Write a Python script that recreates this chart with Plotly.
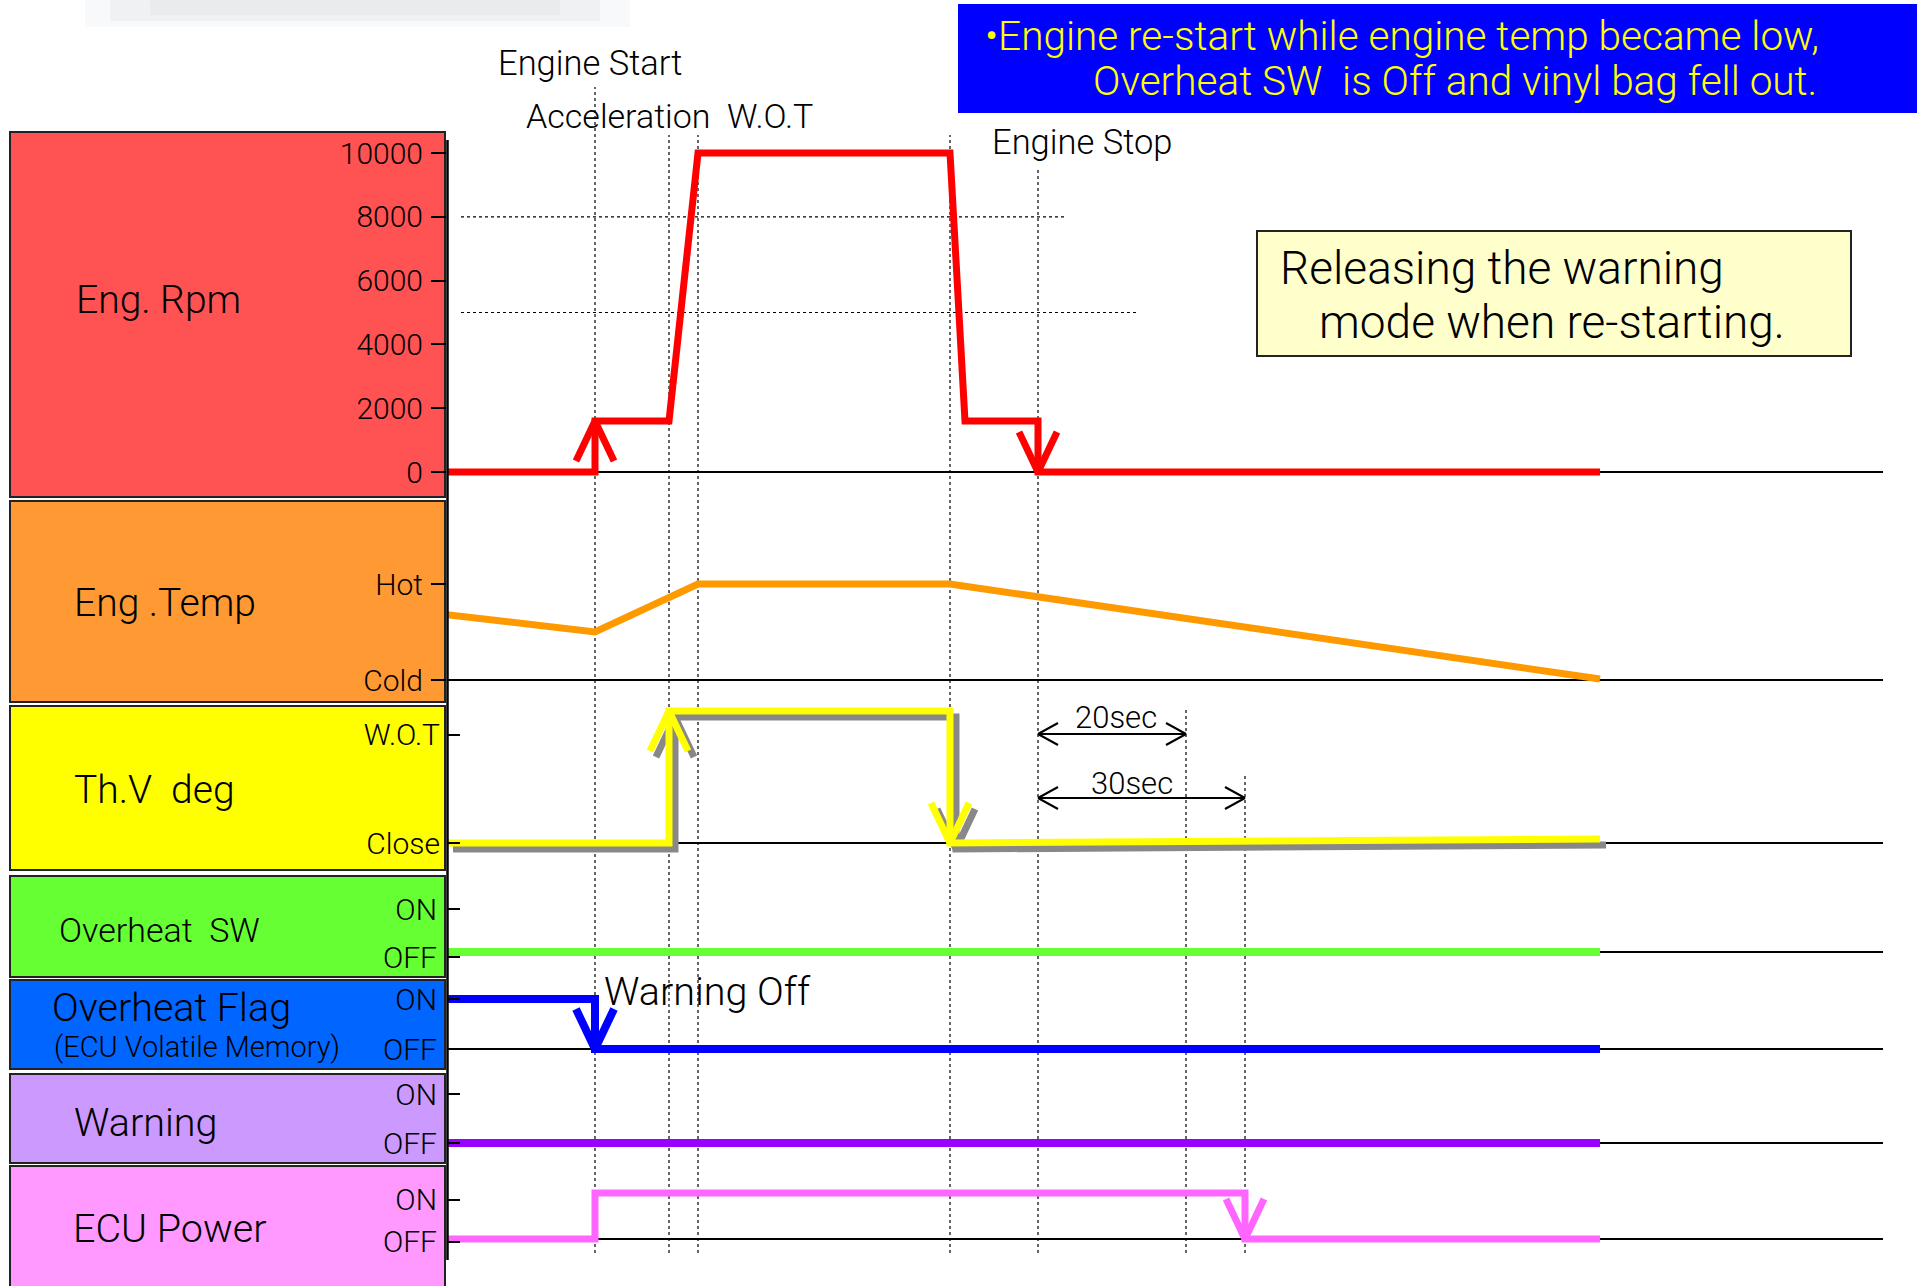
import plotly.graph_objects as go

# ---------------- data (time in arbitrary units, values per channel) ----------------
time_rpm = [0, 14.8, 14.8, 22.2, 25.1, 50.3, 51.8, 59.1, 59.1, 115.3]
rpm = [0, 0, 1600, 1600, 10000, 10000, 1600, 1600, 0, 0]

time_temp = [0, 14.8, 25.1, 50.3, 115.3]
temp = [68, 50, 100, 100, 1]          # 0 = Cold, 100 = Hot

time_thv = [0, 22.2, 22.2, 50.3, 50.3, 115.3]
thv = [0, 0, 100, 100, 0, 3]           # 0 = Close, 100 = W.O.T

time_sw = [0, 115.3]
overheat_sw = [0, 0]                   # 0 = OFF, 1 = ON

time_flag = [0, 14.8, 14.8, 115.3]
overheat_flag = [1, 1, 0, 0]

time_warn = [0, 115.3]
warning = [0, 0]

time_ecu = [0, 14.8, 14.8, 79.8, 79.8, 115.3]
ecu_power = [0, 0, 1, 1, 0, 0]

event_times = [14.8, 22.2, 25.1, 50.3, 59.1, 73.9, 79.8]   # start, accel, WOT, decel, stop, +20s, +30s
event_labels = ["Engine Start", "Acceleration  W.O.T", "Engine Stop"]

rpm_ticks = [0, 2000, 4000, 6000, 8000, 10000]
rpm_ticktext = ["0", "2000", "4000", "6000", "8000", "10000"]
rpm_guides = [8000, 5000]

panel_labels = ["Eng. Rpm", "Eng .Temp", "Th.V  deg", "Overheat  SW", "Overheat Flag", "Warning", "ECU Power"]

# ---------------- layout helpers ----------------
W, H = 1917, 1286
FONT = "Roboto"
X0, X1 = 447, 1883
T_MAX = 143.6
PXT = (X1 - X0) / T_MAX


def px(p):
    return p / W


def py(p):
    return 1 - p / H


# axis name, band (top, bottom px), (v_hi, px_hi), (v_lo, px_lo)
panels = [
    ("y", (120, 500), (10000, 153), (0, 472)),
    ("y2", (500, 702), (100, 584), (0, 680)),
    ("y3", (703, 872), (100, 711), (0, 843)),
    ("y4", (873, 977), (1, 909), (0, 952)),
    ("y5", (978, 1070), (1, 999), (0, 1049)),
    ("y6", (1071, 1165), (1, 1094), (0, 1143)),
    ("y7", (1166, 1282), (1, 1193), (0, 1239)),
]
scale = {}
layout_axes = {}
for name, (top, bot), (vh, ph), (vl, pl) in panels:
    s = (pl - ph) / (vh - vl)
    scale[name] = s
    rmax = vh + (ph - top) / s
    rmin = vl - (bot - pl) / s
    key = "yaxis" if name == "y" else "yaxis" + name[1:]
    layout_axes[key] = dict(domain=[1 - bot / H, 1 - top / H], range=[rmin, rmax],
                            anchor="x", showgrid=False, zeroline=False, showline=False,
                            tickfont=dict(family=FONT, size=30, color="black", weight=300),
                            tickcolor="black", tickwidth=2, fixedrange=True)

layout_axes["yaxis"].update(tickvals=rpm_ticks, ticktext=rpm_ticktext, ticks="outside", ticklen=15,
                            ticklabelstandoff=2, tickfont=dict(family=FONT, size=30, color="black", weight=300))
layout_axes["yaxis2"].update(tickvals=[100, 0], ticktext=["Hot", "Cold"], ticks="outside", ticklen=15,
                             ticklabelstandoff=2)
layout_axes["yaxis3"].update(tickvals=[82, 0], ticktext=["W.O.T", "Close"], ticks="inside", ticklen=13,
                             ticklabelstandoff=6)
for k in ["yaxis4", "yaxis5", "yaxis6", "yaxis7"]:
    layout_axes[k].update(tickvals=[1, 0], ticktext=["ON", "OFF"], ticks="inside", ticklen=13,
                          ticklabelstandoff=9)
layout_axes["yaxis4"].update(tickvals=[1, -0.12])
layout_axes["yaxis7"].update(tickvals=[0.85, -0.06])

WING_DX = 19 / PXT
WING_DY = 40


def with_arrows(ts, vs, tips, axis):
    xs, ys = list(ts), list(vs)
    s = scale[axis]
    for i, d in tips:
        t, v = ts[i], vs[i]
        dv = -WING_DY / s if d == "up" else WING_DY / s
        xs += [None, t - WING_DX, t, t + WING_DX]
        ys += [None, v + dv, v, v + dv]
    return xs, ys


fig = go.Figure()


def add_line(xs, ys, axis, color, width):
    fig.add_trace(go.Scatter(x=xs, y=ys, mode="lines", yaxis=axis, xaxis="x",
                             line=dict(color=color, width=width), hoverinfo="skip",
                             showlegend=False, connectgaps=False))


# temperature
add_line(time_temp, temp, "y2", "#FF9900", 7)
# throttle shadow + throttle
tx, tyv = with_arrows(time_thv, thv, [(2, "up"), (4, "down")], "y3")
sh_x = [None if x is None else x + 6 / PXT for x in tx]
sh_y = [None if y is None else y - 6 / scale["y3"] for y in tyv]
add_line(sh_x, sh_y, "y3", "#888888", 7)
add_line(tx, tyv, "y3", "#FFFF00", 7)
# rpm
rx, ry = with_arrows(time_rpm, rpm, [(2, "up"), (8, "down")], "y")
add_line(rx, ry, "y", "#FF0000", 7)
# overheat sw
add_line(time_sw, overheat_sw, "y4", "#66FF33", 8)
# overheat flag
fx, fy = with_arrows(time_flag, overheat_flag, [(2, "down")], "y5")
add_line(fx, fy, "y5", "#0000FF", 8)
# warning
add_line(time_warn, warning, "y6", "#9900FF", 8)
# ecu power
ex, ey = with_arrows(time_ecu, ecu_power, [(4, "down")], "y7")
add_line(ex, ey, "y7", "#FF66FF", 7)

shapes = []
# faint blurred smear at top-left (remnant of a cut-off title)
for (a, b, c, d, al) in [(85, 630, 0, 27, 0.10), (110, 600, 0, 21, 0.14), (150, 560, 0, 15, 0.14)]:
    shapes.append(dict(type="rect", xref="paper", yref="paper", x0=px(a), x1=px(b), y0=py(d), y1=py(c),
                       fillcolor="rgba(190,198,208,%s)" % al, line=dict(width=0), layer="above"))
# label boxes
box_bands = [(132, 497, "#FF5252"), (501, 702, "#FF9933"), (706, 870, "#FFFF00"), (876, 977, "#66FF33"),
             (980, 1069, "#0066FF"), (1074, 1163, "#CC99FF"), (1166, 1300, "#FF99FF")]
for top, bot, col in box_bands:
    shapes.append(dict(type="rect", xref="paper", yref="paper", x0=px(10), x1=px(445), y0=py(bot), y1=py(top),
                       fillcolor=col, line=dict(color="#222222", width=2), layer="below"))
# vertical axis line
shapes.append(dict(type="line", xref="paper", yref="paper", x0=px(447.5), x1=px(447.5), y0=py(1260), y1=py(140),
                   line=dict(color="black", width=2.5)))
# baselines
for name, *_ in panels:
    shapes.append(dict(type="line", xref="x", yref=name, x0=0, x1=T_MAX, y0=0, y1=0,
                       line=dict(color="black", width=2), layer="below"))
# rpm guide lines
for g, t_end in zip(rpm_guides, [62.0, 69.2]):
    shapes.append(dict(type="line", xref="x", yref="y", x0=1.4, x1=t_end, y0=g, y1=g,
                       line=dict(color="black", width=1.2, dash="dot"), layer="below"))
# event lines
for t, top in zip(event_times, [87, 135, 135, 135, 170, 710, 775]):
    shapes.append(dict(type="line", xref="x", yref="paper", x0=t, x1=t, y0=py(1253), y1=py(top),
                       line=dict(color="black", width=1.2, dash="dot"), layer="below"))


# dimension arrows
def dim_arrow(ta, tb, yp):
    lw = dict(color="black", width=2)
    dx = 20 / PXT
    segs = [((ta, yp), (tb, yp)),
            ((ta, yp), (ta + dx, yp - 11)), ((ta, yp), (ta + dx, yp + 11)),
            ((tb, yp), (tb - dx, yp - 11)), ((tb, yp), (tb - dx, yp + 11))]
    for (a, b), (c, d) in segs:
        shapes.append(dict(type="line", xref="x", yref="paper", x0=a, x1=c, y0=py(b), y1=py(d), line=lw))


dim_arrow(event_times[4], event_times[5], 734)
dim_arrow(event_times[4], event_times[6], 798)

# banner + note box
shapes.append(dict(type="rect", xref="paper", yref="paper", x0=px(958), x1=px(1917), y0=py(113), y1=py(4),
                   fillcolor="#0000FF", line=dict(width=0), layer="above"))
shapes.append(dict(type="rect", xref="paper", yref="paper", x0=px(1257), x1=px(1851), y0=py(356), y1=py(231),
                   fillcolor="#FFFFCC", line=dict(color="#222222", width=2), layer="above"))

annotations = []


def note(text, x, y, size, anchor="left", color="black"):
    annotations.append(dict(text=text, xref="paper", yref="paper", x=px(x), y=py(y), xanchor=anchor,
                            yanchor="middle", showarrow=False,
                            font=dict(family=FONT, size=size, color=color, weight=300)))


note(event_labels[0], 496, 63, 34.5)
note(event_labels[1], 524, 116, 34)
note(event_labels[2], 990, 142, 34.5)
note("•Engine re-start while engine temp became low,", 983, 36, 40.5, color="#FFFF00")
note("Overheat SW  is Off and vinyl bag fell out.", 1091, 81, 40.5, color="#FFFF00")
note("Releasing the warning", 1278, 268, 46)
note("mode when re-starting.", 1317, 322, 46)
note("Warning Off", 602, 991, 39.5)
note("20sec", 1116, 717, 31, anchor="center")
note("30sec", 1132, 783, 31, anchor="center")

label_pos = [(74, 300, 39), (72, 603, 39), (72, 790, 39), (57, 930, 34), (50, 1007, 39.5), (72, 1122, 39.5),
             (71, 1228, 39.5)]
for lab, (x, y, s) in zip(panel_labels, label_pos):
    note(lab, x, y, s)
note("(ECU Volatile Memory)", 52, 1047, 29)

fig.update_layout(
    width=W, height=H, autosize=False,
    margin=dict(l=0, r=0, t=0, b=0),
    paper_bgcolor="white", plot_bgcolor="rgba(0,0,0,0)",
    xaxis=dict(domain=[X0 / W, X1 / W], range=[0, T_MAX], visible=False, fixedrange=True),
    shapes=shapes, annotations=annotations, showlegend=False,
    **layout_axes,
)

fig.write_html("out.html", config={"displayModeBar": False},
               post_script="document.body.style.margin='0';")
